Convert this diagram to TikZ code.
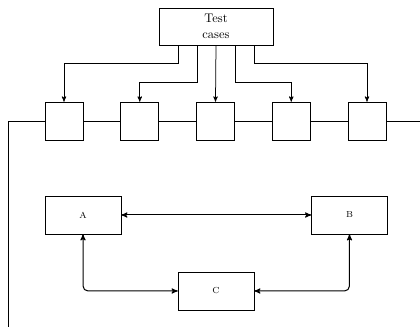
\documentclass[tikz,border=0pt]{standalone}
\usepackage{amsmath}
\usepackage{tikz}
\usetikzlibrary{arrows,positioning,calc}

\begin{document}
\begin{tikzpicture}[x=0.8pt, y=-0.8pt, node distance=29.8pt,
            cell/.style={draw, minimum width=30.4pt, minimum height=30.4pt, inner sep=0pt},
            block/.style={draw, minimum width=60.8pt, minimum height=30.4pt, inner sep=0pt, font=\scriptsize},
            feed/.style={->, draw, semithick, -stealth'},
            link/.style={<->, draw, thick, stealth'-stealth', rounded corners=4pt}]
        \useasboundingbox (0,0) rectangle (420,327);
        % test case source
        \node[draw, minimum width=91.2pt, minimum height=29.6pt, align=center, inner sep=0pt] (tc) at (216,26.5) {Test\\[1pt]cases};
        % chain of cells
        \node[cell] (c1) at (64,121) {};
        \node[cell, right=of c1] (c2) {};
        \node[cell, right=of c2] (c3) {};
        \node[cell, right=of c3] (c4) {};
        \node[cell, right=of c4] (c5) {};
        \coordinate (inl) at (8,327);
        \coordinate (outr) at (420,121);
        \draw (c1.west) -| (inl);
        \draw (c1.east) -- (c2.west);
        \draw (c2.east) -- (c3.west);
        \draw (c3.east) -- (c4.west);
        \draw (c4.east) -- (c5.west);
        \draw (c5.east) -- (outr);
        % feeds from test cases
        \draw[feed] ([xshift=-30.4pt]tc.south) -- ++(0,18) -| (c1.north);
        \draw[feed] ([xshift=-15.2pt]tc.south) -- ++(0,37) -| (c2.north);
        \draw[feed] (tc.south) -- (c3.north);
        \draw[feed] ([xshift=15.2pt]tc.south) -- ++(0,37) -| (c4.north);
        \draw[feed] ([xshift=30.4pt]tc.south) -- ++(0,18) -| (c5.north);
        % lower blocks
        \node[block] (A) at (83,215) {A};
        \node[block, right=152pt of A] (B) {B};
        \node[block] (C) at (216,291) {C};
        \draw[link] (A.east) -- (B.west);
        \draw[link] (A.south) |- (C.west);
        \draw[link] (B.south) |- (C.east);
\end{tikzpicture}
\end{document}
